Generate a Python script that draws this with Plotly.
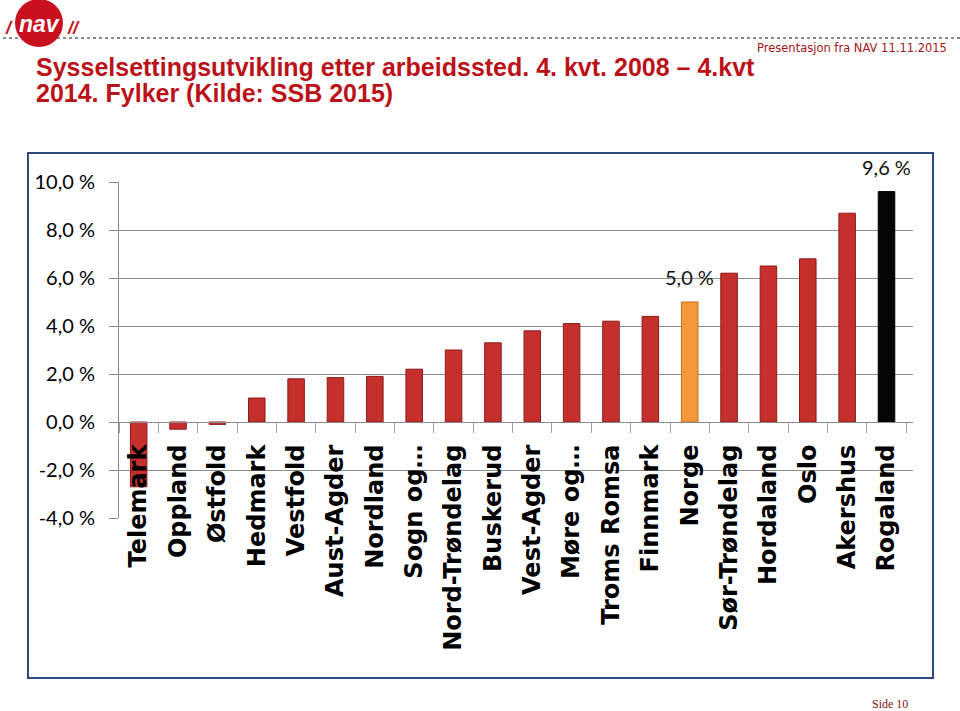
import plotly.graph_objects as go

# ---- data ----
categories = ["Telemark", "Oppland", "Østfold", "Hedmark", "Vestfold", "Aust-Agder",
              "Nordland", "Sogn og…", "Nord-Trøndelag", "Buskerud", "Vest-Agder",
              "Møre og…", "Troms Romsa", "Finnmark", "Norge", "Sør-Trøndelag",
              "Hordaland", "Oslo", "Akershus", "Rogaland"]
values = [-2.7, -0.3, -0.1, 1.0, 1.8, 1.85, 1.9, 2.2, 3.0, 3.3, 3.8, 4.1, 4.2, 4.4,
          5.0, 6.2, 6.5, 6.8, 8.7, 9.6]
labelled = ["Norge", "Rogaland"]
label_text = ["5,0 %", "9,6 %"]
ytick_vals = [-4, -2, 0, 2, 4, 6, 8, 10]
ytick_text = ["-4,0 %", "-2,0 %", "0,0 %", "2,0 %", "4,0 %", "6,0 %", "8,0 %", "10,0 %"]

RED = "#c5302c"
colors = []
lines = []
for c in categories:
    if c == "Norge":
        colors.append("#f5983c"); lines.append("#c46a18")
    elif c == "Rogaland":
        colors.append("#050505"); lines.append("#000000")
    else:
        colors.append(RED); lines.append("#8a1c19")

W, H = 960, 711
ML, MR, MT, MB = 119, 47, 182, 193
PW, PH = W - ML - MR, H - MT - MB


def px(x):
    return (x - ML) / PW


def py(y):
    return (H - MB - y) / PH


TITLE_RED = "#bb1219"

fig = go.Figure()
fig.add_trace(go.Bar(
    x=categories, y=values,
    marker=dict(color=colors, line=dict(color=lines, width=1)),
    width=0.42, hoverinfo="x+y",
))

annotations = []
for cat, txt in zip(labelled, label_text):
    v = values[categories.index(cat)]
    annotations.append(dict(x=cat, y=v, xref="x", yref="y", text=txt, showarrow=False,
                            yanchor="bottom", yshift=11,
                            font=dict(family="Lato", size=20, color="#111111")))

annotations += [
    dict(x=px(34), y=py(67), xref="paper", yref="paper", xanchor="left", yanchor="middle",
         text="Sysselsettingsutvikling etter arbeidssted. 4. kvt. 2008 – 4.kvt",
         showarrow=False, font=dict(family="Liberation Sans", size=25, color=TITLE_RED, weight="bold")),
    dict(x=px(34), y=py(93), xref="paper", yref="paper", xanchor="left", yanchor="middle",
         text="2014. Fylker (Kilde: SSB 2015)",
         showarrow=False, font=dict(family="Liberation Sans", size=25, color=TITLE_RED, weight="bold")),
    dict(x=px(949), y=py(48), xref="paper", yref="paper", xanchor="right", yanchor="middle",
         text="Presentasjon fra NAV 11.11.2015", showarrow=False,
         font=dict(family="DejaVu Sans", size=11.5, color="#a5151c")),
    dict(x=px(890), y=py(704), xref="paper", yref="paper", xanchor="center", yanchor="middle",
         text="Side 10", showarrow=False,
         font=dict(family="Liberation Serif", size=12, color="#8a1020")),
    dict(x=px(39), y=py(24), xref="paper", yref="paper", xanchor="center", yanchor="middle",
         text="<i>nav</i>", showarrow=False,
         font=dict(family="Liberation Sans", size=23, color="white", weight="bold")),
    dict(x=px(9), y=py(28), xref="paper", yref="paper", xanchor="center", yanchor="middle",
         text="<i>/</i>", showarrow=False,
         font=dict(family="Liberation Sans", size=18, color="#c8101e", weight="bold")),
    dict(x=px(73), y=py(28), xref="paper", yref="paper", xanchor="center", yanchor="middle",
         text="<i>//</i>", showarrow=False,
         font=dict(family="Liberation Sans", size=18, color="#c8101e", weight="bold")),
]

shapes = [
    dict(type="rect", xref="paper", yref="paper", x0=px(28), x1=px(933), y0=py(153), y1=py(678),
         line=dict(color="#2c4a80", width=2), layer="below"),
    dict(type="line", xref="paper", yref="paper", x0=px(3), x1=px(960), y0=py(38), y1=py(38),
         line=dict(color="#8c8c8c", width=2, dash="dot")),
    dict(type="circle", xref="paper", yref="paper", x0=px(15), x1=px(63), y0=py(-1), y1=py(47),
         fillcolor="#c8101e", line=dict(width=0)),
]

fig.update_layout(
    width=W, height=H,
    margin=dict(l=ML, r=MR, t=MT, b=MB, pad=0),
    paper_bgcolor="white", plot_bgcolor="white",
    showlegend=False,
    bargap=0.58,
    annotations=annotations,
    shapes=shapes,
    xaxis=dict(
        anchor="free", position=4 / 14,
        showline=True, linecolor="#8a8a8a", linewidth=1,
        ticks="outside", tickson="boundaries", ticklen=10, tickcolor="#a0a0a0",
        tickangle=-90, ticklabelstandoff=12,
        tickfont=dict(family="DejaVu Sans", size=24, color="#000000", weight="bold"),
        showgrid=False,
    ),
    yaxis=dict(
        range=[-4, 10], tickvals=ytick_vals, ticktext=ytick_text,
        showgrid=True, gridcolor="#8c8c8c", gridwidth=1,
        showline=True, linecolor="#8a8a8a", linewidth=1,
        ticks="outside", ticklen=9, tickcolor="#8a8a8a",
        zeroline=False, ticklabelstandoff=10,
        tickfont=dict(family="Lato", size=20, color="#000000"),
    ),
)

fig.write_html("out.html", config={"displayModeBar": False},
               post_script="document.body.style.margin='0';document.body.style.padding='0';")
